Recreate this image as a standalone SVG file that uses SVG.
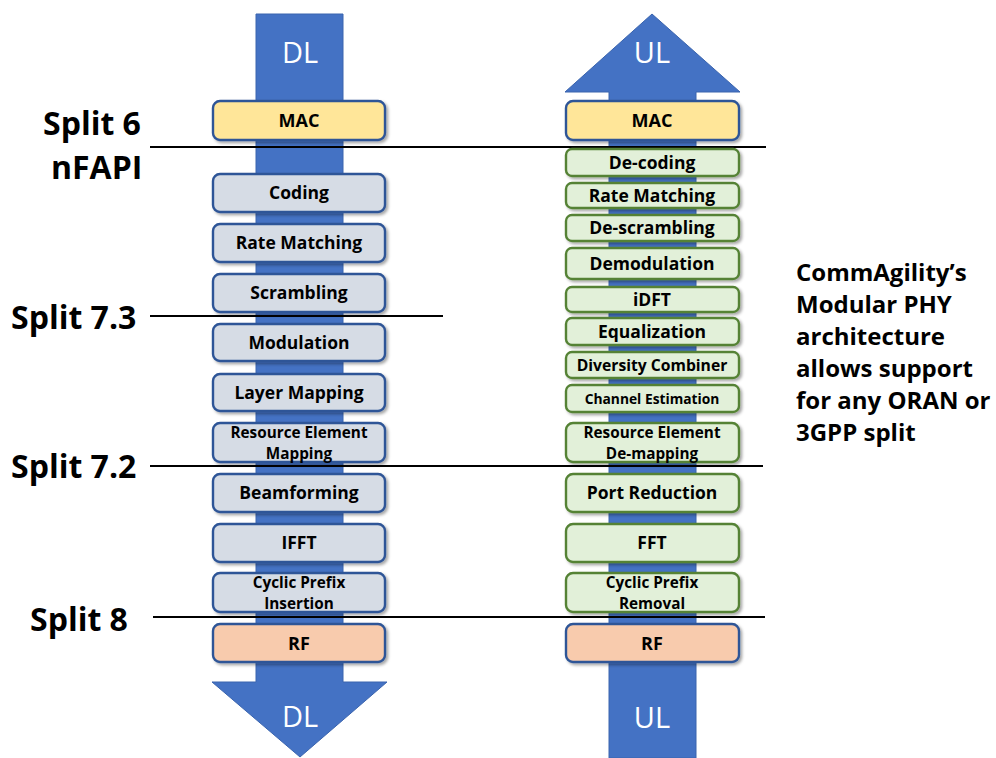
<svg xmlns="http://www.w3.org/2000/svg" width="996" height="758" viewBox="0 0 996 758">
<defs>
<filter id="sh" x="-10%" y="-20%" width="130%" height="160%">
<feDropShadow dx="2" dy="2" stdDeviation="1.5" flood-color="#000" flood-opacity="0.35"/>
</filter>
<style>
.arrow{fill:#4472C4;stroke:#3A64AE;stroke-width:1}
.arrtxt{font-family:"Open Sans","Noto Sans",sans-serif;font-size:29px;fill:#fff;text-anchor:middle}
.box{stroke-width:2.4;filter:url(#sh)}
.dl{fill:#D6DCE5;stroke:#2F5597}
.ul{fill:#E2F0D9;stroke:#548235}
.mac{fill:#FFE699;stroke:#2F5597}
.rf{fill:#F8CBAD;stroke:#2F5597}
.lbl{font-family:"Open Sans","Noto Sans",sans-serif;font-weight:bold;font-size:17.5px;fill:#000;text-anchor:middle}
.two{font-size:15.3px}
.sm{font-size:18px}
.div{font-size:15.7px}
.ce{font-size:13.8px}
.split{font-family:"Open Sans","Noto Sans",sans-serif;font-weight:bold;font-size:32px;fill:#000}
.note{font-family:"Open Sans","Noto Sans",sans-serif;font-weight:bold;font-size:24px;fill:#000}
.ln{stroke:#000;stroke-width:2}
</style>
</defs>
<rect width="996" height="758" fill="#fff"/>

<g id="dl-arrow">
<path class="arrow" d="M256,14 H343 V682 H387 L300,757 L212,682 H256 Z"/>
<text class="arrtxt" x="300" y="63">DL</text>
<text class="arrtxt" x="300" y="727">DL</text>
</g>
<g id="ul-arrow">
<path class="arrow" d="M652,14 L740,92 H696 V758 H609 V92 H565 Z"/>
<text class="arrtxt" x="652" y="63">UL</text>
<text class="arrtxt" x="652" y="728">UL</text>
</g>

<g id="connectors">
<line class="ln" x1="150" y1="147" x2="766" y2="147"/>
<line class="ln" x1="150" y1="316" x2="443" y2="316"/>
<line class="ln" x1="150" y1="466" x2="763" y2="466"/>
<line class="ln" x1="153" y1="617" x2="765" y2="617"/>
</g>

<g id="dl-mac"><rect class="box mac" x="213" y="101" width="172" height="39" rx="7"/><text class="lbl sm" x="299" y="127">MAC</text></g>
<g id="dl-coding"><rect class="box dl" x="213" y="174" width="172" height="38" rx="7"/><text class="lbl" x="299" y="199">Coding</text></g>
<g id="dl-rate"><rect class="box dl" x="213" y="224" width="172" height="38" rx="7"/><text class="lbl" x="299" y="249">Rate Matching</text></g>
<g id="dl-scrambling"><rect class="box dl" x="213" y="274" width="172" height="38" rx="7"/><text class="lbl" x="299" y="299">Scrambling</text></g>
<g id="dl-modulation"><rect class="box dl" x="213" y="324" width="172" height="37" rx="7"/><text class="lbl" x="299" y="349">Modulation</text></g>
<g id="dl-layer"><rect class="box dl" x="213" y="374" width="172" height="37" rx="7"/><text class="lbl" x="299" y="399">Layer Mapping</text></g>
<g id="dl-re"><rect class="box dl" x="213" y="423" width="172" height="39" rx="7"/><text class="lbl two" x="299" y="438">Resource Element</text><text class="lbl two" x="299" y="458.5">Mapping</text></g>
<g id="dl-beam"><rect class="box dl" x="213" y="474" width="172" height="38" rx="7"/><text class="lbl" x="299" y="499">Beamforming</text></g>
<g id="dl-ifft"><rect class="box dl" x="213" y="524" width="172" height="38" rx="7"/><text class="lbl" x="299" y="549">IFFT</text></g>
<g id="dl-cp"><rect class="box dl" x="213" y="573" width="172" height="39" rx="7"/><text class="lbl two" x="299" y="588">Cyclic Prefix</text><text class="lbl two" x="299" y="608.5">Insertion</text></g>
<g id="dl-rf"><rect class="box rf" x="213" y="624" width="172" height="38" rx="7"/><text class="lbl sm" x="299" y="650">RF</text></g>

<g id="ul-mac"><rect class="box mac" x="566" y="101" width="173" height="39" rx="7"/><text class="lbl sm" x="652" y="127">MAC</text></g>
<g id="ul-decoding"><rect class="box ul" x="566" y="149" width="173" height="27" rx="6"/><text class="lbl" x="652" y="169">De-coding</text></g>
<g id="ul-rate"><rect class="box ul" x="566" y="183" width="173" height="25" rx="6"/><text class="lbl" x="652" y="202">Rate Matching</text></g>
<g id="ul-descr"><rect class="box ul" x="566" y="215" width="173" height="26" rx="6"/><text class="lbl" x="652" y="234">De-scrambling</text></g>
<g id="ul-demod"><rect class="box ul" x="566" y="248" width="173" height="31" rx="6"/><text class="lbl" x="652" y="270">Demodulation</text></g>
<g id="ul-idft"><rect class="box ul" x="566" y="287" width="173" height="25" rx="6"/><text class="lbl" x="652" y="306">iDFT</text></g>
<g id="ul-eq"><rect class="box ul" x="566" y="318" width="173" height="27" rx="6"/><text class="lbl" x="652" y="338">Equalization</text></g>
<g id="ul-div"><rect class="box ul" x="566" y="352" width="173" height="26" rx="6"/><text class="lbl div" x="652" y="370.5">Diversity Combiner</text></g>
<g id="ul-ce"><rect class="box ul" x="566" y="385" width="173" height="27" rx="6"/><text class="lbl ce" x="652" y="403.5">Channel Estimation</text></g>
<g id="ul-re"><rect class="box ul" x="566" y="423" width="173" height="39" rx="7"/><text class="lbl two" x="652" y="438">Resource Element</text><text class="lbl two" x="652" y="458.5">De-mapping</text></g>
<g id="ul-port"><rect class="box ul" x="566" y="474" width="173" height="38" rx="7"/><text class="lbl" x="652" y="499">Port Reduction</text></g>
<g id="ul-fft"><rect class="box ul" x="566" y="524" width="173" height="38" rx="7"/><text class="lbl" x="652" y="549">FFT</text></g>
<g id="ul-cp"><rect class="box ul" x="566" y="573" width="173" height="39" rx="7"/><text class="lbl two" x="652" y="588">Cyclic Prefix</text><text class="lbl two" x="652" y="608.5">Removal</text></g>
<g id="ul-rf"><rect class="box rf" x="566" y="624" width="173" height="38" rx="7"/><text class="lbl sm" x="652" y="650">RF</text></g>

<g id="split-labels">
<text class="split" x="43" y="135">Split 6</text>
<text class="split" x="51" y="179">nFAPI</text>
<text class="split" x="11" y="329">Split 7.3</text>
<text class="split" x="11" y="478">Split 7.2</text>
<text class="split" x="30" y="631">Split 8</text>
</g>

<g id="note">
<text class="note" x="796" y="281">CommAgility’s</text>
<text class="note" x="796" y="313">Modular PHY</text>
<text class="note" x="796" y="345">architecture</text>
<text class="note" x="796" y="377">allows support</text>
<text class="note" x="796" y="409">for any ORAN or</text>
<text class="note" x="796" y="441">3GPP split</text>
</g>
</svg>
